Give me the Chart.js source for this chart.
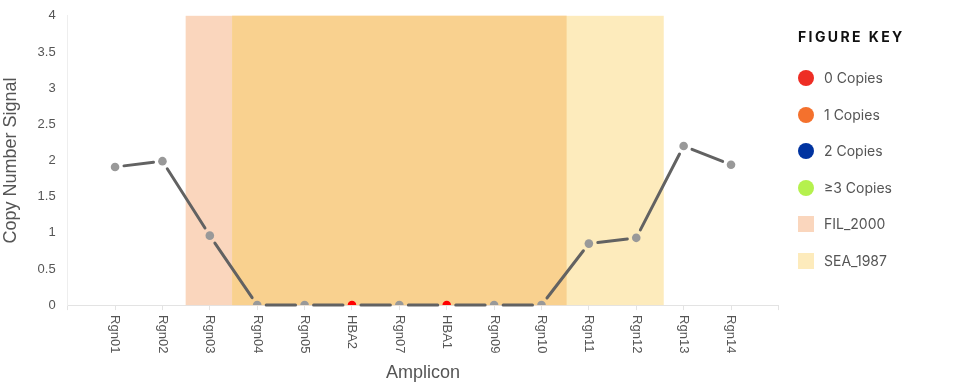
<!DOCTYPE html>
<html lang="en">
<head>
  <meta charset="UTF-8">
  <script src="https://cdn.jsdelivr.net/npm/chart.js@4.4.0/dist/chart.umd.min.js"></script>
  <style>
    body { margin: 0; background: #fff; font-family: 'Liberation Sans', Arial, sans-serif; overflow: hidden; }
    .wrap { position: relative; width: 970px; height: 391px; overflow: hidden; }
    .chart-box { position: absolute; left: 0; top: -4px; width: 800px; height: 398px; }
    .key { position: absolute; left: 798px; top: 27px; font-family: Inter, sans-serif; color: #555; }
    .key h4 { margin: 0 0 23px 0; font-size: 14px; font-weight: 700; letter-spacing: 2.4px; color: #111; line-height: 20px; }
    .key .item { height: 36.6px; display: flex; align-items: flex-start; font-size: 14px; line-height: 16px; }
    .key .dot { width: 16px; height: 16px; border-radius: 50%; margin-right: 10px; }
    .key .sq { width: 16px; height: 16px; margin-right: 10px; }
  </style>
</head>
<body>
  <div class="wrap">
    <div class="chart-box"><canvas id="cnChart"></canvas></div>
    <div class="key" id="key"><h4>FIGURE KEY</h4></div>
  </div>
  <script>
    const categories = ['Rgn01', 'Rgn02', 'Rgn03', 'Rgn04', 'Rgn05', 'HBA2', 'Rgn07', 'HBA1', 'Rgn09', 'Rgn10', 'Rgn11', 'Rgn12', 'Rgn13', 'Rgn14'];
    const signal = [1.91, 1.99, 0.96, 0, 0, 0, 0, 0, 0, 0, 0.85, 0.93, 2.2, 1.94];
    const redPoints = ['HBA2', 'HBA1'];
    const yTicks = [0, 0.5, 1, 1.5, 2, 2.5, 3, 3.5, 4];

    // shaded regions, in category units (1 = first amplicon)
    const regionNames = ['FIL_2000', 'SEA_1987'];
    const regionStart = [2.49, 3.47];
    const regionEnd = [10.53, 12.58];
    const regionColors = ['#fad6bd', '#fdebbc'];
    const overlapColor = '#f9d18f';

    const keyLabels = ['0 Copies', '1 Copies', '2 Copies', '\u22653 Copies'];
    const keyColors = ['#ee2d24', '#f4712d', '#0033a0', '#b5f14e'];

    const key = document.getElementById('key');
    keyLabels.forEach((t, i) => {
      const d = document.createElement('div');
      d.className = 'item';
      d.innerHTML = '<span class="dot" style="background:' + keyColors[i] + '"></span><span>' + t + '</span>';
      key.appendChild(d);
    });
    regionNames.forEach((t, i) => {
      const d = document.createElement('div');
      d.className = 'item';
      d.innerHTML = '<span class="sq" style="background:' + regionColors[i] + '"></span><span>' + t + '</span>';
      key.appendChild(d);
    });

    const regionsPlugin = {
      id: 'regions',
      beforeDatasetsDraw(chart) {
        const { ctx, chartArea, scales: { x } } = chart;
        ctx.save();
        regionNames.forEach((n, i) => {
          const x0 = x.getPixelForValue(regionStart[i]);
          const x1 = x.getPixelForValue(regionEnd[i]);
          ctx.fillStyle = regionColors[i];
          ctx.fillRect(x0, chartArea.top, x1 - x0, chartArea.bottom - chartArea.top);
        });
        const os = Math.max(...regionStart), oe = Math.min(...regionEnd);
        if (oe > os) {
          const x0 = x.getPixelForValue(os), x1 = x.getPixelForValue(oe);
          ctx.fillStyle = overlapColor;
          ctx.fillRect(x0, chartArea.top, x1 - x0, chartArea.bottom - chartArea.top);
        }
        // connecting line with gaps around the points
        const pts = chart.getDatasetMeta(0).data;
        ctx.strokeStyle = '#626262';
        ctx.lineWidth = 3;
        ctx.lineCap = 'round';
        const gap = 9;
        for (let i = 0; i < pts.length - 1; i++) {
          const a = pts[i], b = pts[i + 1];
          const dx = b.x - a.x, dy = b.y - a.y;
          const len = Math.hypot(dx, dy);
          if (len <= gap * 2) continue;
          const ux = dx / len, uy = dy / len;
          ctx.beginPath();
          ctx.moveTo(a.x + ux * gap, a.y + uy * gap);
          ctx.lineTo(b.x - ux * gap, b.y - uy * gap);
          ctx.stroke();
        }
        ctx.restore();
      },
      afterDraw(chart) {
        // category labels, turned clockwise
        const { ctx, chartArea, scales: { x } } = chart;
        ctx.save();
        ctx.fillStyle = '#555';
        ctx.font = '13px "Liberation Sans", Arial, sans-serif';
        ctx.textAlign = 'left';
        ctx.textBaseline = 'middle';
        categories.forEach((c, i) => {
          ctx.save();
          ctx.translate(x.getPixelForValue(i + 1), chartArea.bottom + 10);
          ctx.rotate(Math.PI / 2);
          ctx.fillText(c, 0, 0);
          ctx.restore();
        });
        ctx.restore();
      }
    };

    new Chart(document.getElementById('cnChart'), {
      type: 'line',
      data: {
        datasets: [{
          label: 'Copy Number Signal',
          data: signal.map((v, i) => ({ x: i + 1, y: v })),
          showLine: false,
          pointRadius: 4.3,
          pointHoverRadius: 4.3,
          pointBorderWidth: 0,
          pointBackgroundColor: categories.map(c => redPoints.includes(c) ? '#ff0000' : '#999999')
        }]
      },
      options: {
        responsive: true,
        maintainAspectRatio: false,
        animation: false,
        layout: { padding: { top: 4, right: 2, bottom: 10, left: 0 } },
        plugins: { legend: { display: false }, tooltip: { enabled: false } },
        scales: {
          x: {
            type: 'linear',
            min: 0,
            max: categories.length + 1,
            afterBuildTicks(axis) {
              axis.ticks = Array.from({ length: categories.length + 2 }, (_, i) => ({ value: i }));
            },
            grid: { drawOnChartArea: false, drawTicks: true, tickLength: 5, color: '#e3e3e3' },
            border: { color: '#e3e3e3' },
            ticks: {
              autoSkip: false,
              minRotation: 90,
              maxRotation: 90,
              color: 'rgba(0,0,0,0)',
              font: { size: 13, family: '"Liberation Sans", Arial, sans-serif' },
              padding: 6,
              callback: v => categories[v - 1] || ''
            },
            title: {
              display: true,
              text: 'Amplicon',
              color: '#555',
              font: { size: 18, family: '"Liberation Sans", Arial, sans-serif' },
              padding: { top: 2, bottom: 0 }
            }
          },
          y: {
            min: 0,
            max: 4,
            afterBuildTicks(axis) {
              axis.ticks = yTicks.map(v => ({ value: v }));
            },
            grid: { drawOnChartArea: false, drawTicks: false },
            border: { color: '#eeeeee' },
            ticks: {
              color: '#555',
              padding: 12,
              font: { size: 13, family: '"Liberation Sans", Arial, sans-serif' },
              callback: v => String(v)
            },
            title: {
              display: true,
              text: 'Copy Number Signal',
              color: '#555',
              font: { size: 18, family: '"Liberation Sans", Arial, sans-serif' },
              padding: { top: 0, bottom: 4 }
            }
          }
        }
      },
      plugins: [regionsPlugin]
    });
  </script>
</body>
</html>
